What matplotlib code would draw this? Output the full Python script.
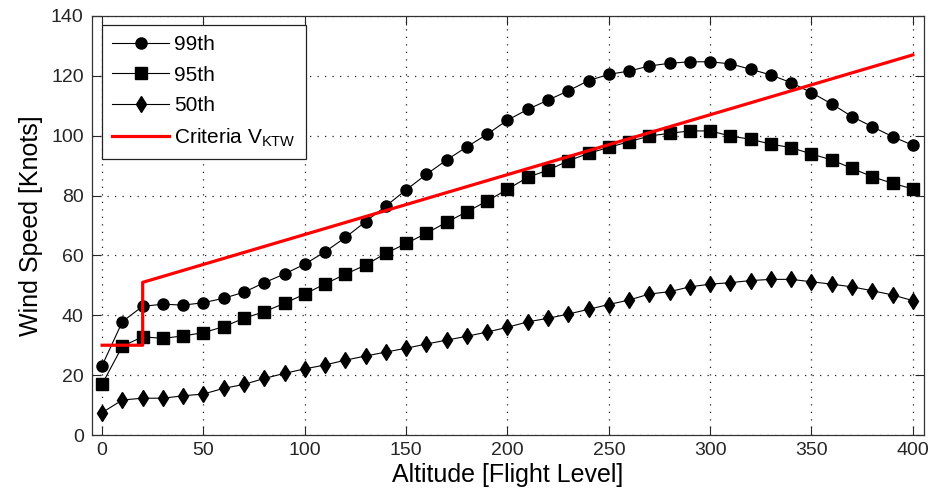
import matplotlib
matplotlib.use("Agg")
import matplotlib.pyplot as plt

plt.rcParams['font.family'] = ['Liberation Sans', 'DejaVu Sans']
plt.rcParams['mathtext.fontset'] = 'custom'
plt.rcParams['mathtext.rm'] = 'Liberation Sans'
plt.rcParams['mathtext.it'] = 'Liberation Sans'

altitude = [0, 10, 20, 30, 40, 50, 60, 70, 80, 90, 100, 110, 120, 130, 140, 150, 160, 170, 180, 190,
            200, 210, 220, 230, 240, 250, 260, 270, 280, 290, 300, 310, 320, 330, 340, 350, 360, 370,
            380, 390, 400]
p99 = [23.2, 37.9, 43.0, 43.7, 43.4, 44.2, 45.7, 47.7, 50.9, 53.8, 57.1, 61.2, 66.0, 71.3, 76.5,
       81.9, 87.1, 91.9, 96.3, 100.5, 105.2, 108.8, 111.9, 115.0, 118.4, 120.5, 121.6, 123.3, 124.2,
       124.7, 124.7, 124.0, 122.2, 120.3, 117.7, 114.4, 110.6, 106.4, 103.0, 99.7, 96.8]
p95 = [17.0, 29.7, 32.8, 32.3, 33.1, 34.2, 36.2, 39.0, 41.2, 44.0, 47.1, 50.5, 53.7, 56.8, 60.7,
       64.0, 67.4, 71.1, 74.6, 78.2, 82.1, 86.1, 88.5, 91.6, 94.1, 96.1, 98.0, 99.9, 100.8, 101.6,
       101.6, 99.9, 98.8, 97.2, 96.0, 93.9, 91.9, 89.1, 86.3, 84.1, 82.2]
p50 = [7.5, 11.7, 12.3, 12.3, 13.1, 13.7, 15.6, 16.9, 18.9, 20.6, 22.1, 23.4, 25.0, 26.4, 27.7,
       29.0, 30.4, 31.7, 33.0, 34.4, 36.0, 37.8, 39.0, 40.4, 42.0, 43.6, 45.1, 47.1, 47.9, 49.5,
       50.4, 50.9, 51.6, 52.0, 52.0, 51.2, 50.4, 49.5, 48.2, 46.8, 44.9]
crit_x = [0, 20, 20, 400]
crit_y = [30, 30, 51, 127]

xticks = [0, 50, 100, 150, 200, 250, 300, 350, 400]
yticks = [0, 20, 40, 60, 80, 100, 120, 140]

fig = plt.figure(figsize=(9.35, 4.95), dpi=100)
ax = fig.add_axes([0.0984, 0.1212, 0.8898, 0.8465])

ax.plot(altitude, p99, '-o', color='black', lw=0.8, ms=8, label='99th')
ax.plot(altitude, p95, '-s', color='black', lw=0.8, ms=8.5, label='95th')
ax.plot(altitude, p50, '-d', color='black', lw=0.8, ms=8, label='50th')
ax.plot(crit_x, crit_y, '-', color='#ff0000', lw=2.3, label=r'Criteria V$_{\mathrm{KTW}}$')

ax.set_xlim(-5, 405.5)
ax.set_ylim(0, 140)
ax.set_xticks(xticks)
ax.set_yticks(yticks)
ax.grid(True, color='#222222', linestyle=(0, (1, 5)), lw=0.9)
ax.tick_params(direction='in', top=True, right=True, length=6.5, width=0.8,
               labelsize=14, colors='#262626')
ax.tick_params(axis='y', pad=6)
ax.tick_params(axis='x', pad=5)
for s in ax.spines.values():
    s.set_color('#333333')
    s.set_linewidth(0.9)

ax.set_xlabel('Altitude [Flight Level]', fontsize=18, labelpad=3)
ax.set_ylabel('Wind Speed [Knots]', fontsize=18, labelpad=6)

leg = ax.legend(loc='upper left', bbox_to_anchor=(0.012, 0.979), borderaxespad=0,
                fontsize=15, fancybox=False, framealpha=1, edgecolor='#222222',
                handlelength=2.7, handletextpad=0.25, labelspacing=0.55, borderpad=0.5)
leg.get_frame().set_linewidth(0.9)

fig.savefig('out.png', dpi=100)
